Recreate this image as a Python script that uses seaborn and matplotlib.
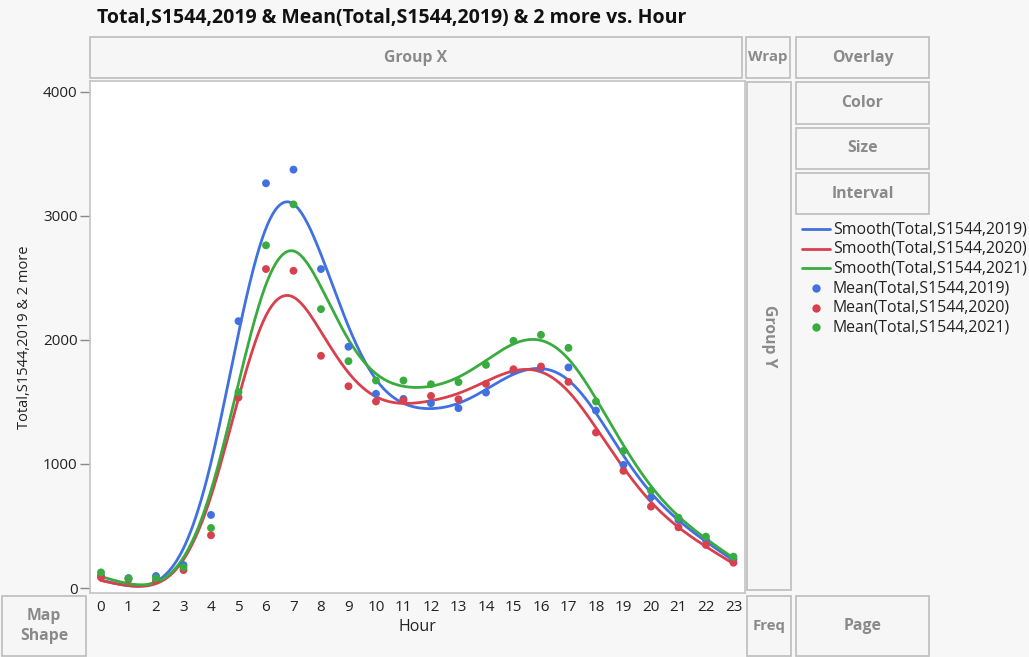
import numpy as np
import pandas as pd
import matplotlib
matplotlib.use("Agg")
import matplotlib.pyplot as plt
from matplotlib.patches import Rectangle
import seaborn as sns

# ---------------- data ----------------
hours = list(range(24))
mean_2019 = [100, 80, 97, 185, 589, 2150, 3261, 3371, 2570, 1944, 1565, 1524,
             1489, 1449, 1575, 1747, 1770, 1777, 1430, 992, 731, 548, 387, 231]
mean_2020 = [86, 70, 60, 145, 425, 1535, 2570, 2556, 1871, 1626, 1503, 1511,
             1548, 1521, 1645, 1763, 1785, 1661, 1253, 944, 656, 489, 347, 204]
mean_2021 = [126, 78, 78, 167, 484, 1578, 2761, 3091, 2247, 1828, 1672, 1672,
             1642, 1659, 1798, 1992, 2040, 1935, 1503, 1105, 785, 567, 414, 253]
series_names = ["2019", "2020", "2021"]
y_ticks = [0, 1000, 2000, 3000, 4000]

colors = {"2019": "#4170e0", "2020": "#d8404e", "2021": "#3aab3f"}

# ---------------- smoothing spline (penalised, fine grid) ----------------
def smooth(x, y, lam=0.6, h=0.05):
    grid = np.arange(min(x), max(x) + h / 2, h)
    n = len(grid)
    W = np.zeros(n)
    Wy = np.zeros(n)
    for xi, yi in zip(x, y):
        k = int(round((xi - grid[0]) / h))
        W[k] += 1.0
        Wy[k] += yi
    D = np.diff(np.eye(n), 2, axis=0)
    A = np.diag(W) + lam / h ** 3 * D.T @ D
    f = np.linalg.solve(A, Wy)
    return grid, f

pts = []
curves = []
for name, vals in zip(series_names, [mean_2019, mean_2020, mean_2021]):
    pts.append(pd.DataFrame({"Hour": hours, "Value": vals, "Series": name}))
    g, f = smooth(np.array(hours, float), np.array(vals, float))
    curves.append(pd.DataFrame({"Hour": g, "Value": f, "Series": name}))
pts = pd.concat(pts, ignore_index=True)
curves = pd.concat(curves, ignore_index=True)

# ---------------- figure ----------------
sns.set_style("white")
plt.rcParams["font.family"] = ["Open Sans", "DejaVu Sans"]

W_PX, H_PX = 1029, 657
fig = plt.figure(figsize=(W_PX / 100, H_PX / 100), dpi=100)
fig.patch.set_facecolor("#f7f7f7")

def fx(px):
    return px / W_PX

def fy(py):
    return 1 - py / H_PX

def box(x0, y0, x1, y1, label, rotate=0, fs=11.3):
    r = Rectangle((fx(x0), fy(y1)), fx(x1 - x0), (y1 - y0) / H_PX,
                  transform=fig.transFigure, facecolor="#f6f6f6",
                  edgecolor="#bdbdbd", linewidth=1.2, zorder=0)
    fig.add_artist(r)
    fig.text(fx((x0 + x1) / 2), fy((y0 + y1) / 2), label, ha="center",
             va="center", rotation=rotate, fontsize=fs, color="#8a8a8a",
             fontweight="bold", linespacing=1.4)

box(90, 37, 742, 78, "Group X")
box(746, 37, 790, 78, "Wrap", fs=10.8)
box(796, 37, 929, 78, "Overlay")
box(796, 82, 929, 124, "Color")
box(796, 128, 929, 169, "Size")
box(796, 173, 929, 214, "Interval")
box(747, 82, 791, 590, "Group Y", rotate=-90)
box(2, 596, 86, 656, "Map\nShape")
box(747, 596, 791, 656, "Freq", fs=10.8)
box(796, 596, 929, 656, "Page")

fig.text(fx(97), fy(18), "Total,S1544,2019 & Mean(Total,S1544,2019) & 2 more vs. Hour",
         ha="left", va="center", fontsize=14, fontweight="bold", color="#111111")

ax = fig.add_axes([fx(90), fy(593), fx(745 - 90), (593 - 81) / H_PX])
ax.set_facecolor("white")

sns.lineplot(data=curves, x="Hour", y="Value", hue="Series", palette=colors,
             linewidth=2, ax=ax, legend=False, sort=True)
sns.scatterplot(data=pts, x="Hour", y="Value", hue="Series", palette=colors,
                s=32, edgecolor="none", ax=ax, legend=False, zorder=3)

ax.set_xlim(-0.4, 23.42)
ax.set_ylim(-40, 4085)
ax.set_xticks(hours)
ax.set_xticklabels([str(h) for h in hours])
ax.set_yticks(y_ticks)
ax.tick_params(axis="x", length=0, pad=5, labelsize=11, colors="#222222")
ax.tick_params(axis="y", length=7, width=1, color="#888888", pad=2,
               labelsize=11, labelcolor="#222222", left=True)
for sp in ax.spines.values():
    sp.set_color("#c4c4c4")
    sp.set_linewidth(1.2)
ax.set_xlabel("Hour", fontsize=11.5, color="#222222", labelpad=3)
ax.set_ylabel("Total,S1544,2019 & 2 more", fontsize=10.5, color="#222222", labelpad=8)

# ---------------- legend ----------------
legend_rows = []
for name in series_names:
    legend_rows.append(("line", name, f"Smooth(Total,S1544,{name})"))
for name in series_names:
    legend_rows.append(("dot", name, f"Mean(Total,S1544,{name})"))
y0 = 229
for i, (kind, name, label) in enumerate(legend_rows):
    yy = y0 + i * 19.7
    if kind == "line":
        fig.add_artist(plt.Line2D([fx(802), fx(830)], [fy(yy), fy(yy)],
                                  color=colors[name], linewidth=2,
                                  transform=fig.transFigure))
    else:
        fig.add_artist(plt.Line2D([fx(816)], [fy(yy)], marker="o", markersize=5,
                                  color=colors[name], linestyle="none",
                                  transform=fig.transFigure))
    fig.text(fx(833), fy(yy), label, ha="left", va="center", fontsize=11.4,
             color="#222222")

fig.savefig("out.png", dpi=100, facecolor=fig.get_facecolor())
